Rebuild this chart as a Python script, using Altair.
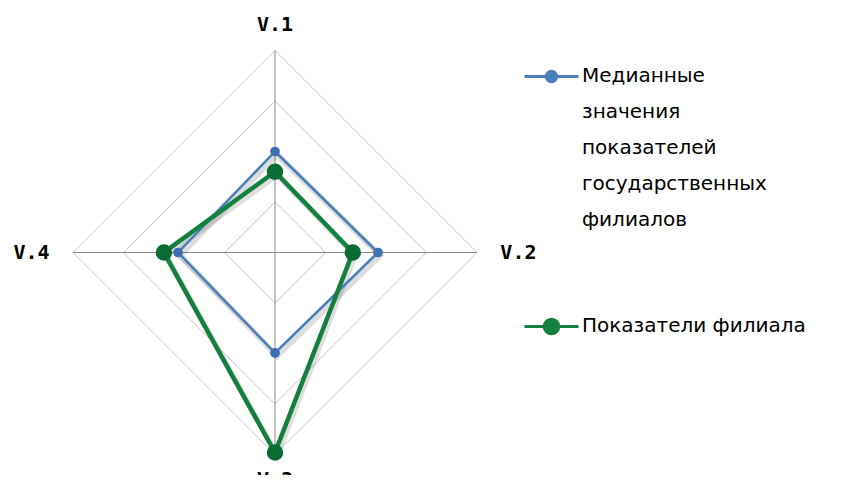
import altair as alt
import pandas as pd

# ---------------- data ----------------
axes = ["V.1", "V.2", "V.3", "V.4"]
median_values = [2.0, 2.04, 1.99, 1.92]
branch_values = [1.6, 1.54, 3.96, 2.2]
series_names = [
    "Медианные значения показателей государственных филиалов",
    "Показатели филиала",
]
grid_levels = [1, 2, 3, 4]
max_level = 4

line_colors = ["#4a7ebb", "#13803f"]
marker_colors = ["#3f6fae", "#0b6b34"]

n = len(axes)
rows = []
for s, vals in enumerate([median_values, branch_values]):
    for i in range(n + 1):
        k = i % n
        rows.append({"series": series_names[s], "axis": axes[k], "idx": i,
                     "value": vals[k], "mcolor": marker_colors[s]})
series_df = pd.DataFrame(rows)

grid_rows = []
for lv in grid_levels:
    for i in range(n + 1):
        grid_rows.append({"level": lv, "idx": i, "value": lv})
grid_df = pd.DataFrame(grid_rows)

spoke_rows = []
for k, a in enumerate(axes):
    spoke_rows.append({"axis": a, "idx": k, "value": 0, "o": 0})
    spoke_rows.append({"axis": a, "idx": k, "value": max_level, "o": 1})
spoke_df = pd.DataFrame(spoke_rows)

label_df = pd.DataFrame({"axis": axes, "idx": list(range(n))})

# ---------------- geometry ----------------
PX_PER_UNIT = 50.5
W, H = 831, 467
cx, cy = 267, 244.5  # centre in plot coordinates
x_scale = alt.Scale(domain=[-cx / PX_PER_UNIT, (W - cx) / PX_PER_UNIT], nice=False, zero=False)
y_scale = alt.Scale(domain=[-(H - cy) / PX_PER_UNIT, cy / PX_PER_UNIT], nice=False, zero=False)

ang = f"datum.idx * 2 * PI / {n}"


def polar(chart, r_expr="datum.value"):
    return chart.transform_calculate(
        ang=ang
    ).transform_calculate(
        px=f"({r_expr}) * sin(datum.ang)",
        py=f"({r_expr}) * cos(datum.ang)",
    )


X = alt.X("px:Q", scale=x_scale, axis=None)
Y = alt.Y("py:Q", scale=y_scale, axis=None)

rings = polar(alt.Chart(grid_df)).mark_line(color="#c8c8c8", strokeWidth=1).encode(
    x=X, y=Y, detail="level:N", order="idx:Q"
)
spokes = polar(alt.Chart(spoke_df)).mark_line(color="#8a8a8a", strokeWidth=1).encode(
    x=X, y=Y, detail="axis:N", order="o:Q"
)

path1 = "M-1,0L1,0M0.19,0A0.19,0.19,0,1,1,-0.19,0A0.19,0.19,0,1,1,0.19,0Z"
path2 = "M-1,0L1,0M0.27,0A0.27,0.27,0,1,1,-0.27,0A0.27,0.27,0,1,1,0.27,0Z"

legend = alt.Legend(
    title=None,
    orient="none",
    legendX=515,
    legendY=40,
    direction="vertical",
    padding=0,
    symbolSize=2916,
    symbolStrokeWidth=3,
    symbolOpacity=1,
    labelFont="DejaVu Sans",
    labelFontSize=20,
    labelColor="#000000",
    labelLimit=500,
    labelOffset=2,
    rowPadding=68,
    labelBaseline="top",
    labelExpr="length(datum.label) > 30 ? split(datum.label, ' ') : datum.label",
)

stroke_scale = alt.Scale(domain=series_names, range=line_colors)

legend_layer = polar(alt.Chart(series_df)).mark_point(
    size=2916, filled=True, opacity=0
).encode(
    x=X, y=Y,
    fill=alt.Fill("series:N", scale=alt.Scale(domain=series_names, range=line_colors), legend=legend),
    stroke=alt.Stroke("series:N", scale=stroke_scale, legend=legend),
    shape=alt.Shape("series:N", scale=alt.Scale(domain=series_names, range=[path1, path2]), legend=legend),
)

stroke = alt.Stroke("series:N", scale=stroke_scale, legend=legend)

shadow = polar(alt.Chart(series_df)).mark_line(
    color="#000000", opacity=0.13, strokeWidth=6, xOffset=2, yOffset=3
).encode(x=X, y=Y, detail="series:N", order="idx:Q")

blue_line = polar(alt.Chart(series_df)).transform_filter(
    alt.datum.series == series_names[0]
).mark_line(strokeWidth=2.5).encode(x=X, y=Y, stroke=stroke, order="idx:Q")

green_line = polar(alt.Chart(series_df)).transform_filter(
    alt.datum.series == series_names[1]
).mark_line(strokeWidth=4.5).encode(x=X, y=Y, stroke=stroke, order="idx:Q")

blue_pts = polar(alt.Chart(series_df)).transform_filter(
    (alt.datum.series == series_names[0]) & (alt.datum.idx < n)
).mark_point(filled=True, size=95, opacity=1, shape="circle").encode(
    x=X, y=Y, color=alt.Color("mcolor:N", scale=None)
)

green_pts = polar(alt.Chart(series_df)).transform_filter(
    (alt.datum.series == series_names[1]) & (alt.datum.idx < n)
).mark_point(filled=True, size=270, opacity=1, shape="circle").encode(
    x=X, y=Y, color=alt.Color("mcolor:N", scale=None)
)

labels = polar(
    alt.Chart(label_df), r_expr="4.5 + 0.32 * abs(sin(datum.ang))"
).mark_text(
    font="DejaVu Sans Mono", fontWeight="bold", fontSize=20, color="#000000",
    align="center", baseline="middle"
).encode(x=X, y=Y, text="axis:N")

chart = alt.layer(
    rings, spokes, shadow, blue_line, green_line, blue_pts, green_pts, labels, legend_layer
).properties(
    width=W, height=H, padding=0, autosize=alt.AutoSizeParams(type="none")
).configure(
    view=alt.ViewConfig(stroke=None),
    style={"guide-label": {"lineHeight": 36, "dy": -11}},
)

chart.save("out.html", embed_options={"renderer": "svg", "actions": False})
